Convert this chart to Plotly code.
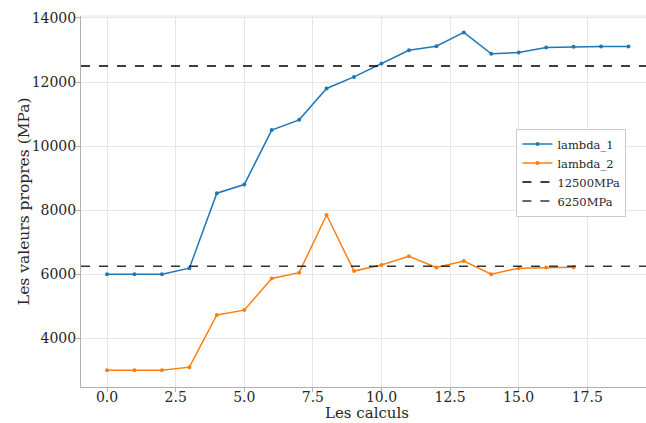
import plotly.graph_objects as go

x_calc = list(range(20))
lambda_1 = [6000, 6000, 6000, 6190, 8530, 8800, 10500, 10820, 11800, 12160,
            12580, 12990, 13120, 13550, 12880, 12920, 13080, 13100, 13110, 13110]
x_calc2 = list(range(18))
lambda_2 = [3000, 3000, 3000, 3100, 4730, 4880, 5870, 6050, 7850, 6100,
            6290, 6560, 6210, 6410, 6000, 6190, 6210, 6220]
ref_values = [12500, 6250]
ref_names = ["12500MPa", "6250MPa"]
x_ticks = [0, 2.5, 5, 7.5, 10, 12.5, 15, 17.5]
x_ticklabels = ["0.0", "2.5", "5.0", "7.5", "10.0", "12.5", "15.0", "17.5"]
y_ticks = [4000, 6000, 8000, 10000, 12000, 14000]
y_ticklabels = ["4000", "6000", "8000", "10000", "12000", "14000"]

FONT = "DejaVu Serif"
TXT = "#262626"
x_range = [-0.95, 19.64]

fig = go.Figure()
fig.add_trace(go.Scatter(x=x_calc, y=lambda_1, mode="lines+markers", name="lambda_1",
                         line=dict(color="#1f77b4", width=1.5), marker=dict(size=4)))
fig.add_trace(go.Scatter(x=x_calc2, y=lambda_2, mode="lines+markers", name="lambda_2",
                         line=dict(color="#ff7f0e", width=1.5), marker=dict(size=4)))
ref_colors = ["#000000", "rgba(0,0,0,0.8)"]
for v, n, c in zip(ref_values, ref_names, ref_colors):
    fig.add_trace(go.Scatter(x=[x_range[0], x_range[1] + 1], y=[v, v], mode="lines", name=n,
                             line=dict(color=c, width=1.6, dash="dash")))

axis_common = dict(showgrid=True, gridcolor="#e6e6e6", gridwidth=1,
                   zeroline=False, showline=True, linecolor="#b0b0b0", linewidth=1,
                   ticks="outside", ticklen=4, tickcolor="#b0b0b0", automargin=False,
                   tickfont=dict(family=FONT, size=14, color=TXT))

fig.update_layout(
    width=646, height=423,
    margin=dict(l=81, r=0, t=16, b=36, autoexpand=False),
    paper_bgcolor="white", plot_bgcolor="white",
    font=dict(family=FONT, color=TXT),
    showlegend=True,
    legend=dict(x=0.868, y=0.578, xanchor="center", yanchor="middle",
                bgcolor="white", bordercolor="#cccccc", borderwidth=1,
                font=dict(family=FONT, size=11.5, color=TXT),
                tracegroupgap=0, itemwidth=30),
    xaxis=dict(range=x_range, tickmode="array", tickvals=x_ticks, ticktext=x_ticklabels,
               ticklabelstandoff=-7, **axis_common),
    yaxis=dict(range=[2480, 14062], tickmode="array", tickvals=y_ticks, ticktext=y_ticklabels,
               ticklabelstandoff=-3, **axis_common),
)
fig.add_annotation(text="Les calculs", xref="paper", yref="paper", x=0.507, y=-0.069,
                   showarrow=False, xanchor="center", yanchor="middle",
                   font=dict(family=FONT, size=15, color=TXT))
fig.add_annotation(text="Les valeurs propres (MPa)", xref="paper", yref="paper",
                   x=-0.102, y=0.502, textangle=-90, showarrow=False,
                   xanchor="center", yanchor="middle",
                   font=dict(family=FONT, size=15.5, color=TXT))
# light top border line
fig.add_shape(type="line", xref="paper", yref="paper", x0=0, x1=1, y0=1, y1=1,
              line=dict(color="#e6e6e6", width=1))

fig.write_html("out.html", config={"displayModeBar": False},
               post_script="document.body.style.margin='0';document.body.style.overflow='hidden';")
